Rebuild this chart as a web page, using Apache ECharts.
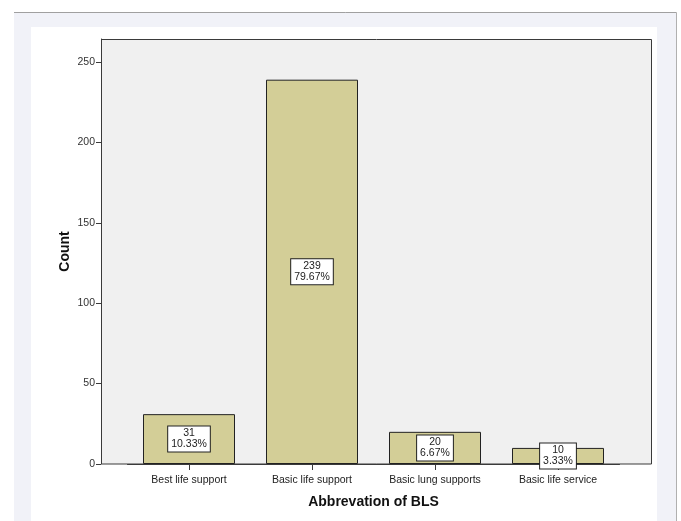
<!DOCTYPE html>
<html>
<head>
<meta charset="utf-8">
<script src="https://cdn.jsdelivr.net/npm/echarts@6/dist/echarts.min.js"></script>
<style>
html,body{margin:0;padding:0;background:#fff;}
#chart{width:681px;height:521px;}
</style>
</head>
<body>
<div id="chart"></div>
<script>
const categories = ['Best life support', 'Basic life support', 'Basic lung supports', 'Basic life service'];
const counts = [31, 239, 20, 10];
const percents = ['10.33%', '79.67%', '6.67%', '3.33%'];
const yTicks = [0, 50, 100, 150, 200, 250];

const chart = echarts.init(document.getElementById('chart'), null, {renderer: 'canvas'});
const FONT = '"Liberation Sans", Arial, sans-serif';

chart.setOption({
  animation: false,
  backgroundColor: '#ffffff',
  graphic: [
    {type: 'rect', z: -10, shape: {x: 14, y: 12, width: 662, height: 520}, style: {fill: '#f1f2f8'}},
    {type: 'line', z: -9, shape: {x1: 14, y1: 12.5, x2: 676.5, y2: 12.5}, style: {stroke: '#a0a0a0', lineWidth: 1}},
    {type: 'line', z: -9, shape: {x1: 676.5, y1: 12.5, x2: 676.5, y2: 521}, style: {stroke: '#b0b0b0', lineWidth: 1}},
    {type: 'rect', z: -9, shape: {x: 31, y: 27, width: 626, height: 500}, style: {fill: '#ffffff'}},
    {type: 'rect', z: -8, shape: {x: 101.5, y: 39.5, width: 550, height: 424.5}, style: {fill: '#f0f0f0', stroke: '#3a3a3a', lineWidth: 1}}
  ],
  grid: {left: 127.5, top: 39, width: 492, height: 425, containLabel: false},
  xAxis: {
    type: 'category',
    data: categories,
    axisLine: {show: true, lineStyle: {color: '#3a3a3a'}},
    axisTick: {show: true, alignWithLabel: true, length: 6, lineStyle: {color: '#3a3a3a'}},
    axisLabel: {color: '#222', fontFamily: FONT, fontSize: 10.5, margin: 11},
    name: 'Abbrevation of BLS',
    nameLocation: 'middle',
    nameGap: 31,
    nameMoveOverlap: false,
    nameTextStyle: {color: '#111', fontFamily: FONT, fontSize: 14, fontWeight: 'bold'}
  },
  yAxis: {
    type: 'value',
    min: 0,
    max: 264.3,
    interval: 50,
    offset: 26.5,
    axisLine: {show: true, lineStyle: {color: '#3a3a3a'}},
    axisTick: {show: true, length: 5, lineStyle: {color: '#3a3a3a'}},
    splitLine: {show: false},
    axisLabel: {color: '#333', fontFamily: FONT, fontSize: 10.5, margin: 6, showMaxLabel: false,
      formatter: v => (yTicks.indexOf(v) >= 0 ? String(v) : '')},
    name: 'Count',
    nameLocation: 'middle',
    nameGap: 29,
    nameMoveOverlap: false,
    nameRotate: 90,
    nameTextStyle: {color: '#111', fontFamily: FONT, fontSize: 14, fontWeight: 'bold'}
  },
  series: [{
    type: 'bar',
    data: counts,
    barWidth: 92,
    itemStyle: {color: '#d3ce97', borderColor: '#222', borderWidth: 1},
    label: {
      show: true,
      position: 'inside',
      formatter: p => counts[p.dataIndex] + '\n' + percents[p.dataIndex],
      color: '#222',
      fontFamily: FONT,
      fontSize: 10.5,
      lineHeight: 11,
      backgroundColor: '#ffffff',
      borderColor: '#222',
      borderWidth: 1,
      padding: [2, 3, 1, 3]
    }
  }]
});
</script>
</body>
</html>
